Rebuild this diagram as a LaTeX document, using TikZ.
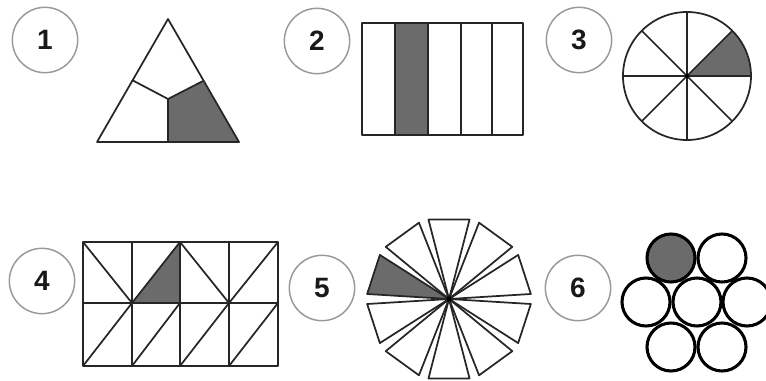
\documentclass[tikz,border=0pt]{standalone}
\usepackage{fontspec}
\setmainfont{Liberation Sans}
\begin{document}
\begin{tikzpicture}[x=0.75pt,y=-0.75pt, line join=round,
  lab/.style={circle, draw=black!40, line width=1.1pt, minimum size=49pt, inner sep=0pt,
    font=\fontsize{21}{22}\selectfont\bfseries, text=black!90},
  part/.style={draw=black!85, line width=1.3pt},
  ball/.style={draw=black, line width=2.3pt},
  shd/.style={fill=black!58}]
\useasboundingbox (0,0) rectangle (766,381);
% labels
\node[lab] (l1) at (45,40) {1};
\node[lab] (l2) at (317,41) {2};
\node[lab] (l3) at (579,40) {3};
\node[lab] (l4) at (42,281) {4};
\node[lab] (l5) at (322,288) {5};
\node[lab] (l6) at (578,288) {6};
% panel 1: triangle
\fill[shd] (168,99) -- (203,81) -- (239,142) -- (168,142) -- cycle;
\draw[part] (168,19) -- (239,142) -- (97,142) -- cycle;
\draw[part] (132,80) -- (168,99) -- (203,81) (168,99) -- (168,142);
% panel 2: strips
\fill[shd] (395,23) rectangle (428,135);
\draw[part] (362,23) rectangle (523,135);
\foreach \x in {395,428,461,492} \draw[part] (\x,23) -- (\x,135);
% panel 3: pie
\coordinate (c3) at (687,76);
\fill[shd] (c3) -- +(0:64) arc[start angle=0, end angle=-45, radius=64] -- cycle;
\draw[part] (c3) circle[radius=64];
\foreach \a in {0,45,90,135} \draw[part] (c3) +(\a:64) -- +(\a+180:64);
\fill (c3) circle[radius=2];
% panel 4: grid
\fill[shd] (132,303) -- (180,242) -- (180,303) -- cycle;
\draw[part] (83,242) rectangle (278,366);
\foreach \x in {132,180,229} \draw[part] (\x,242) -- (\x,366);
\draw[part] (83,303) -- (278,303);
\draw[part] (83,242) -- (132,303) -- (180,242) -- (229,303) -- (278,242);
\draw[part] (83,366) -- (132,303) (132,366) -- (180,303) (180,366) -- (229,303) (229,366) -- (278,303);
% panel 5: pinwheel
\coordinate (c5) at (449,299);
\foreach \c in {90,54,18,-18,-54,-90,-126,-162,162,126} {
  \ifnum\c=162
    \filldraw[part, shd] (c5) -- +({-\c-14.5}:82) -- +({-\c+14.5}:82) -- cycle;
  \else
    \filldraw[part, fill=white] (c5) -- +({-\c-14.5}:82) -- +({-\c+14.5}:82) -- cycle;
  \fi
}
\fill (c5) circle[radius=2.5];
% panel 6: circles
\filldraw[ball, shd] (671,258) circle[radius=24];
\foreach \p in {(722,258),(646,302),(697,302),(747,302),(671,347),(722,347)}
  \draw[ball] \p circle[radius=24];
\end{tikzpicture}
\end{document}
